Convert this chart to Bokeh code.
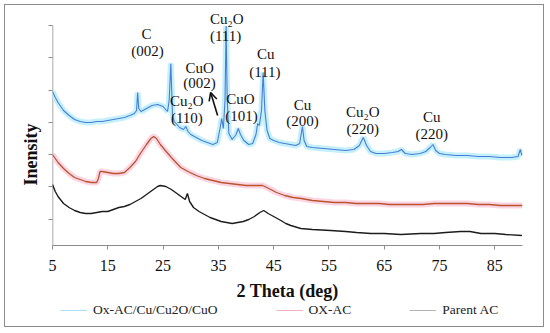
from bokeh.plotting import figure
from bokeh.layouts import column
from bokeh.models import (Range1d, FixedTicker, Label, Arrow, OpenHead, Legend, LegendItem)
from bokeh.embed import file_html
from bokeh.resources import INLINE

# ---------------- data (2 Theta in deg, intensity in arbitrary units) ----------------
tt_blue = [5.0, 5.5, 6.0, 6.5, 7.0, 8.0, 9.0, 10.0, 11.0, 12.0, 13.0, 14.0, 15.0, 16.0, 17.0,
           18.0, 19.0, 19.8, 20.2, 20.4, 20.6, 21.0, 22.0, 23.0, 24.0, 25.0, 25.8, 26.1, 26.4,
           26.7, 27.0, 28.0, 28.7, 29.1, 29.5, 30.0, 31.0, 32.0, 33.0, 34.0, 34.8, 35.3, 35.6,
           35.9, 36.2, 36.4, 36.6, 36.9, 37.5, 38.2, 38.6, 39.0, 39.6, 40.5, 41.2, 41.8, 42.1,
           42.4, 42.8, 43.1, 43.4, 43.8, 44.3, 45.0, 46.0, 47.0, 48.0, 49.0, 49.7, 50.2, 50.5,
           51.0, 52.0, 54.0, 56.0, 58.0, 59.5, 60.5, 61.2, 61.8, 62.5, 63.5, 65.0, 66.5, 67.5,
           68.1, 68.8, 70.0, 71.5, 72.5, 73.3, 73.8, 74.3, 75.0, 76.0, 78.0, 80.0, 82.0, 84.0,
           86.0, 88.0, 89.2, 89.6, 89.9]
int_blue = [1600, 1540, 1490, 1450, 1410, 1360, 1320, 1300, 1290, 1290, 1300, 1300, 1310, 1320, 1330,
            1340, 1360, 1380, 1410, 1590, 1430, 1400, 1430, 1460, 1470, 1450, 1400, 1510, 1880,
            1360, 1300, 1240, 1220, 1250, 1200, 1170, 1140, 1110, 1090, 1070, 1090, 1230, 1330,
            1230, 1510, 2255, 1510, 1180, 1120, 1170, 1230, 1170, 1110, 1070, 1080, 1170, 1280,
            1260, 1410, 1790, 1410, 1210, 1130, 1110, 1090, 1080, 1070, 1060, 1080, 1250, 1110,
            1050, 1040, 1030, 1020, 1010, 1020, 1060, 1140, 1060, 1000, 980, 980, 990, 1000,
            1020, 980, 970, 980, 1000, 1040, 1070, 1010, 980, 970, 960, 960, 950, 950,
            940, 940, 950, 1020, 960]

tt_red = [5.0, 5.5, 6.0, 7.0, 8.0, 9.0, 10.0, 11.0, 12.0, 13.0, 13.3, 13.6, 14.0, 15.0, 16.0,
          17.0, 18.0, 19.0, 20.0, 20.9, 22.0, 22.8, 23.3, 23.8, 24.5, 25.4, 26.5, 27.5, 28.2,
          29.5, 31.0, 32.5, 34.0, 35.5, 37.0, 38.5, 40.0, 41.5, 43.0, 44.5, 45.5, 47.0, 48.5,
          50.0, 52.0, 54.0, 56.0, 58.0, 60.0, 62.0, 64.0, 66.0, 68.0, 70.0, 72.0, 74.0, 76.0,
          78.0, 80.0, 82.0, 84.0, 86.0, 88.0, 90.0]
int_red = [970, 930, 890, 830, 780, 740, 720, 700, 690, 690, 730, 800, 800, 790, 780,
           780, 790, 840, 900, 980, 1070, 1130, 1150, 1130, 1070, 1010, 940, 880, 840,
           800, 760, 730, 710, 690, 680, 670, 660, 660, 660, 620, 590, 560, 540,
           530, 510, 500, 490, 490, 480, 480, 480, 470, 470, 470, 470, 480, 480,
           480, 480, 470, 470, 460, 460, 460]

tt_black = [5.0, 5.5, 6.0, 7.0, 8.0, 9.0, 10.0, 11.0, 12.0, 13.0, 14.0, 15.0, 16.0, 17.0, 18.0,
            19.0, 20.0, 21.0, 22.0, 23.0, 24.0, 24.5, 25.5, 26.5, 27.5, 28.5, 29.0, 29.4, 29.8,
            30.5, 31.5, 32.5, 33.5, 34.5, 35.5, 36.5, 37.5, 38.5, 39.5, 40.5, 41.5, 42.5, 43.2,
            44.0, 45.0, 46.3, 47.2, 48.1, 49.9, 52.0, 55.3, 58.0, 60.0, 62.6, 65.0, 68.0, 71.6,
            74.0, 76.1, 78.8, 80.5, 82.5, 85.0, 87.0, 89.9]
int_black = [670, 600, 550, 480, 440, 410, 390, 380, 380, 390, 400, 400, 420, 440, 450,
             470, 500, 530, 570, 610, 650, 660, 650, 620, 580, 540, 520, 580, 500,
             440, 400, 370, 340, 320, 300, 290, 280, 290, 300, 320, 350, 390, 410,
             380, 350, 310, 280, 260, 230, 220, 210, 200, 190, 180, 180, 170, 180,
             180, 190, 200, 200, 180, 180, 170, 160]

x_ticks = [5, 15, 25, 35, 45, 55, 65, 75, 85]
y_ticks = [323, 646, 969, 1292, 1615, 1938, 2261]
y_label = "Inensity"
y_label_at = 969   # the original's y label sits beside this tick

series_names = ["Ox-AC/Cu/Cu2O/CuO", "OX-AC", "Parent AC"]

# peak annotations: (text, 2theta, intensity)
ann_text = ["C", "(002)", "Cu\u2082O", "(111)", "CuO", "(002)", "Cu\u2082O", "(110)",
            "CuO", "(101)", "Cu", "(111)", "Cu", "(200)", "Cu\u2082O", "(220)", "Cu", "(220)"]
ann_x = [22.0, 22.2, 36.5, 36.3, 31.6, 31.6, 29.3, 29.3,
         39.0, 39.2, 43.55, 43.4, 50.2, 50.2, 61.1, 61.1, 73.6, 73.6]
ann_y = [2180, 2010, 2330, 2160, 1840, 1690, 1510, 1340,
         1530, 1360, 1980, 1800, 1470, 1310, 1400, 1230, 1350, 1180]
arrow_from = (34.86, 1360)
arrow_to = (33.6, 1590)

FONT = "Liberation Serif"
AXIS_GREY = "#8c8c8c"

p = figure(width=538, height=298, output_backend="svg", toolbar_location=None,
           x_range=Range1d(5, 90), y_range=Range1d(60, 2420),
           min_border_left=47, min_border_right=21, min_border_top=4, min_border_bottom=58)
p.outline_line_color = None
p.grid.visible = False
p.background_fill_color = "white"
p.border_fill_color = "white"

# y axis line (only up to the top tick, as in the original)
p.segment(x0=[x_ticks[0]], y0=[60], x1=[x_ticks[0]], y1=[y_ticks[-1]],
          line_color=AXIS_GREY, line_width=1.5)

# data lines (halo + core)
p.line(tt_blue, int_blue, line_color="#bdeefb", line_width=6, line_alpha=0.9)
p.line(tt_blue, int_blue, line_color="#4a7cd6", line_width=1.1)
p.line(tt_red, int_red, line_color="#fbd0de", line_width=6, line_alpha=0.9)
p.line(tt_red, int_red, line_color="#b85530", line_width=1.3)
p.line(tt_black, int_black, line_color="#1c1c1c", line_width=1.4)

# axes
xa = p.xaxis[0]
xa.ticker = FixedTicker(ticks=x_ticks)
xa.axis_line_color = AXIS_GREY
xa.major_tick_line_color = AXIS_GREY
xa.major_tick_in = 0
xa.major_tick_out = 4
xa.minor_tick_line_color = None
xa.major_label_text_font = FONT
xa.major_label_text_font_size = "16px"
xa.major_label_text_color = "#111111"
xa.major_label_standoff = 10
xa.axis_label = "2 Theta (deg)"
xa.axis_label_text_font = FONT
xa.axis_label_text_font_style = "bold"
xa.axis_label_text_font_size = "18px"
xa.axis_label_text_color = "#111111"
xa.axis_label_standoff = 7

ya = p.yaxis[0]
ya.ticker = FixedTicker(ticks=y_ticks)
ya.axis_line_color = None
ya.major_tick_line_color = AXIS_GREY
ya.major_tick_in = 0
ya.major_tick_out = 4
ya.minor_tick_line_color = None
# the y-axis title is carried by the tick next to which it sits in the original
ya.major_label_overrides = {t: (y_label if t == y_label_at else "") for t in y_ticks}
ya.major_label_orientation = "vertical"
ya.major_label_text_font = FONT
ya.major_label_text_font_style = "bold"
ya.major_label_text_font_size = "18px"
ya.major_label_text_color = "#111111"
ya.major_label_standoff = 7

# peak labels
for t, xx, yy in zip(ann_text, ann_x, ann_y):
    p.add_layout(Label(x=xx, y=yy, text=t, text_font=FONT, text_font_size="15px",
                       text_align="center", text_baseline="middle", text_color="#111111"))

p.add_layout(Arrow(x_start=arrow_from[0], y_start=arrow_from[1], x_end=arrow_to[0], y_end=arrow_to[1],
                   line_color="#111111", line_width=1.6,
                   end=OpenHead(size=8, line_color="#111111", line_width=1.6)))

# ---------------- legend strip ----------------
p2 = figure(width=538, height=23, output_backend="svg", toolbar_location=None,
            x_range=Range1d(0, 1), y_range=Range1d(0, 1),
            x_axis_location=None, y_axis_location=None,
            min_border_left=47, min_border_right=21, min_border_top=0, min_border_bottom=0)
p2.grid.visible = False
p2.outline_line_color = None
p2.border_fill_color = "white"
# legend swatches (drawn outside the strip's visible range)
lr1 = p2.line([2, 3], [2, 3], line_color="#ace0f6", line_width=1)
lr2 = p2.line([2, 3], [2, 3], line_color="#f2b4c2", line_width=1)
lr3 = p2.line([2, 3], [2, 3], line_color="#b4b4b4", line_width=1)
legend = Legend(items=[LegendItem(label=series_names[0], renderers=[lr1]),
                       LegendItem(label=series_names[1], renderers=[lr2]),
                       LegendItem(label=series_names[2], renderers=[lr3])],
                orientation="horizontal", location=(8, 8),
                label_text_font=FONT, label_text_font_size="13.5px", label_text_color="#222222",
                glyph_width=27, glyph_height=14, label_standoff=6, spacing=58,
                padding=0, margin=0, border_line_color=None, background_fill_alpha=0)
p2.add_layout(legend, "center")

layout = column(p, p2, spacing=0,
                styles={"margin-left": "4px", "margin-top": "4px", "border": "1px solid #8c8c8c"})

open("out.html", "w").write(file_html(layout, INLINE))
